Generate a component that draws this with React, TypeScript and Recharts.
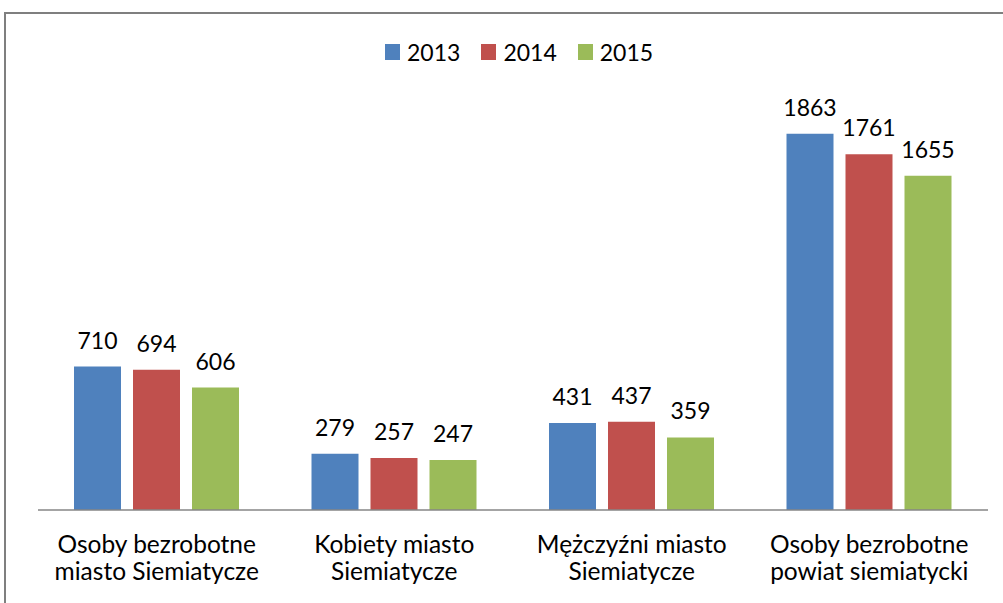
import React from 'react';
import { BarChart, Bar, XAxis, YAxis, LabelList } from 'recharts';

const categories = [
  'Osoby bezrobotne\nmiasto Siemiatycze',
  'Kobiety miasto\nSiemiatycze',
  'Mężczyźni miasto\nSiemiatycze',
  'Osoby bezrobotne\npowiat siemiatycki',
];
const values2013 = [710, 279, 431, 1863];
const values2014 = [694, 257, 437, 1761];
const values2015 = [606, 247, 359, 1655];
const seriesNames = ['2013', '2014', '2015'];
const seriesKeys = ['y2013', 'y2014', 'y2015'];
const seriesColors = ['#4F81BD', '#C0504D', '#9BBB59'];
const yDomain = [0, 2000];

const data = categories.map((c, i) => ({
  category: c,
  y2013: values2013[i],
  y2014: values2014[i],
  y2015: values2015[i],
}));

const FONT = 'Lato, "Open Sans", sans-serif';
const FS = 23;
const TICK_FS = 24.5;

const CategoryTick = (props: any) => {
  const { x, y, payload } = props;
  const lines = String(payload.value).split('\n');
  return (
    <text x={x} textAnchor="middle" fontFamily={FONT} fontSize={TICK_FS} fill="#000">
      {lines.map((l: string, i: number) => (
        <tspan key={i} x={x} y={y + 43 + i * 27}>
          {l}
        </tspan>
      ))}
    </text>
  );
};

export default function App() {
  return (
    <div
      style={{
        position: 'absolute',
        left: 0,
        top: 0,
        width: 1003,
        height: 603,
        overflow: 'hidden',
        background: '#fff',
      }}
    >
      <div
        style={{
          position: 'absolute',
          left: 4,
          top: 12,
          width: 1100,
          height: 700,
          border: '2px solid #7f7f7f',
          boxSizing: 'border-box',
        }}
      />
      <div
        style={{
          position: 'absolute',
          left: 385,
          top: 38,
          display: 'flex',
          alignItems: 'center',
          fontFamily: FONT,
          fontSize: FS,
          color: '#000',
          lineHeight: '28px',
        }}
      >
        {seriesNames.map((n, i) => (
          <div key={n} style={{ display: 'flex', alignItems: 'center', marginRight: i < seriesNames.length - 1 ? 21 : 0 }}>
            <div style={{ width: 15, height: 16, background: seriesColors[i], marginRight: 7 }} />
            <span>{n}</span>
          </div>
        ))}
      </div>
      <div style={{ position: 'absolute', left: 0, top: 0 }}>
        <BarChart
          width={1003}
          height={603}
          data={data}
          margin={{ top: 106, left: 38, right: 15, bottom: 13 }}
          barSize={47}
          barGap={12}
        >
          <XAxis
            dataKey="category"
            height={80}
            tickLine={false}
            tickSize={0}
            tickMargin={0}
            axisLine={{ stroke: '#868686', strokeWidth: 1.5 }}
            tick={<CategoryTick />}
            interval={0}
          />
          <YAxis hide domain={yDomain} />
          {seriesKeys.map((k, i) => (
            <Bar key={k} dataKey={k} name={seriesNames[i]} fill={seriesColors[i]} isAnimationActive={false}>
              <LabelList
                dataKey={k}
                position="top"
                offset={18}
                fontFamily={FONT}
                fontSize={FS}
                fill="#000"
              />
            </Bar>
          ))}
        </BarChart>
      </div>
    </div>
  );
}
